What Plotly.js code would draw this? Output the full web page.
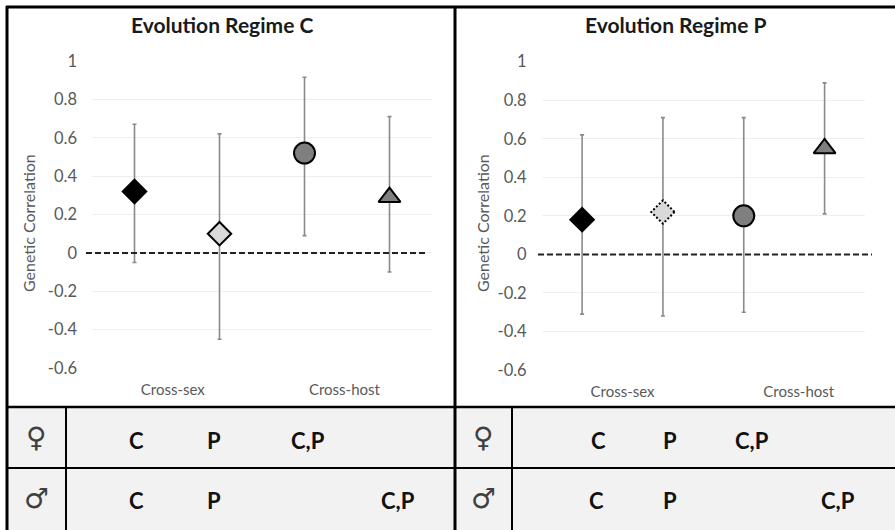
<!DOCTYPE html>
<html>
<head>
<meta charset="utf-8">
<script src="https://cdn.plot.ly/plotly-3.0.1.min.js"></script>
<style>
  html, body { margin: 0; padding: 0; background: #ffffff; }
  #chart { width: 895px; height: 530px; }
</style>
</head>
<body>
<div id="chart"></div>
<script>
// ---------------- data ----------------
const panelTitles = ["Evolution Regime C", "Evolution Regime P"];
const categoryLabels = ["Cross-sex", "Cross-host"];
const labelPosC = [0.45, 2.47];
const labelPosP = [0.5, 2.68];
const pointIndex = [0, 1, 2, 3];

// Regime C: estimate, upper and lower limits
const regimeC = [0.32, 0.10, 0.52, 0.29];
const regimeCUpper = [0.67, 0.62, 0.915, 0.71];
const regimeCLower = [-0.05, -0.45, 0.09, -0.10];

// Regime P
const regimeP = [0.18, 0.22, 0.20, 0.55];
const regimePUpper = [0.62, 0.71, 0.71, 0.89];
const regimePLower = [-0.31, -0.32, -0.30, 0.21];

const yTickVals = [-0.6, -0.4, -0.2, 0, 0.2, 0.4, 0.6, 0.8, 1];
const yTickText = ["-0.6", "-0.4", "-0.2", "0", "0.2", "0.4", "0.6", "0.8", "1"];
const yTitle = "Genetic Correlation";

// table below the panels
const femaleSymbol = "\u2640";
const maleSymbol = "\u2642";
const femaleRowC = ["C", "P", "C,P"];
const maleRowC = ["C", "P", "C,P"];
const femaleRowP = ["C", "P", "C,P"];
const maleRowP = ["C", "P", "C,P"];

// ---------------- styles ----------------
const W = 895, H = 530;
const px = v => v / W;
const py = v => 1 - v / H;

const symbols = ["diamond", "diamond", "circle", "triangle-up"];
const fillsC = ["#000000", "#d9d9d9", "#7f7f7f", "#7f7f7f"];
const fillsP = ["#000000", "#d9d9d9", "#7f7f7f", "#7f7f7f"];
const sizes = [17, 18, 21, 19];
const lineW = [3, 2, 2, 2];

function makeTrace(vals, up, lo, fills, xa, ya, uid) {
  return {
    type: "scatter", mode: "markers", uid: uid,
    x: pointIndex, y: vals, xaxis: xa, yaxis: ya,
    error_y: {
      type: "data", symmetric: false,
      array: up.map((u, i) => u - vals[i]),
      arrayminus: lo.map((l, i) => vals[i] - l),
      color: "#8a8a8a", thickness: 1.6, width: 2
    },
    marker: { symbol: symbols, color: fills, size: sizes, opacity: 1,
              line: { color: "#000000", width: lineW } },
    hoverinfo: "skip", showlegend: false
  };
}

const traces = [
  makeTrace(regimeC, regimeCUpper, regimeCLower, fillsC, "x", "y", "regC"),
  makeTrace(regimeP, regimePUpper, regimePLower, fillsP, "x2", "y2", "regP")
];

const tickFont = { family: "Lato, 'Open Sans', sans-serif", size: 16.5, color: "#595959" };
const catFont = { family: "Lato, 'Open Sans', sans-serif", size: 15, color: "#595959" };

function yAxis(domain, anchor) {
  return {
    domain: domain, anchor: anchor, range: [-0.6, 1],
    tickvals: yTickVals, ticktext: yTickText, tickfont: tickFont,
    showgrid: true, gridcolor: "#efefef", gridwidth: 1,
    zeroline: false, showline: false, ticks: "", ticklabelstandoff: 14,
    fixedrange: true
  };
}
function xAxis(domain, anchor, pos) {
  return {
    domain: domain, anchor: anchor, range: [-0.5, 3.5],
    tickvals: pos, ticktext: categoryLabels, tickfont: catFont,
    showgrid: false, zeroline: false, showline: false, ticks: "",
    ticklabelstandoff: 11, fixedrange: true
  };
}

const lineCol = "#000000";
function hLine(x0, x1, y, w) {
  return { type: "line", xref: "paper", yref: "paper", x0: px(x0), x1: px(x1),
           y0: py(y), y1: py(y), line: { color: lineCol, width: w }, layer: "above" };
}
function vLine(x, y0, y1, w) {
  return { type: "line", xref: "paper", yref: "paper", x0: px(x), x1: px(x),
           y0: py(y0), y1: py(y1), line: { color: lineCol, width: w }, layer: "above" };
}

const shapes = [
  { type: "rect", xref: "paper", yref: "paper", x0: px(7), x1: 1, y0: 0, y1: py(407),
    fillcolor: "#f2f2f2", line: { width: 0 }, layer: "below" },
  { type: "line", xref: "paper", yref: "y", x0: px(86), x1: px(427), y0: 0, y1: 0,
    line: { color: "#222222", width: 2, dash: "6px,3px" }, layer: "above" },
  { type: "line", xref: "paper", yref: "y2", x0: px(538), x1: px(872), y0: 0, y1: 0,
    line: { color: "#222222", width: 2, dash: "6px,3px" }, layer: "above" },
  hLine(6, 895, 7, 3),
  vLine(7, 6, 530, 3),
  vLine(455, 6, 530, 3),
  hLine(6, 895, 407, 2.5),
  hLine(6, 895, 468, 2),
  vLine(66, 407, 530, 2),
  vLine(512, 407, 530, 2)
];

const annotations = [];
const titleFont = { family: "Lato, 'Open Sans', sans-serif", size: 21, color: "#1a1a1a", weight: "bold" };
annotations.push({ text: "<b>" + panelTitles[0] + "</b>", xref: "paper", yref: "paper",
  x: px(222), y: py(25), showarrow: false, font: titleFont, xanchor: "center", yanchor: "middle" });
annotations.push({ text: "<b>" + panelTitles[1] + "</b>", xref: "paper", yref: "paper",
  x: px(675), y: py(25), showarrow: false, font: titleFont, xanchor: "center", yanchor: "middle" });

const yTitleFont = { family: "Lato, 'Open Sans', sans-serif", size: 16, color: "#595959" };
[[28, 223], [482, 223]].forEach(p => annotations.push({
  text: yTitle, xref: "paper", yref: "paper", x: px(p[0]), y: py(p[1]),
  textangle: -90, showarrow: false, font: yTitleFont, xanchor: "center", yanchor: "middle"
}));

const symFont = { family: "'DejaVu Sans', sans-serif", size: 28, color: "#404040" };
[[36, 437, femaleSymbol], [36, 498, maleSymbol], [483, 437, femaleSymbol], [483, 498, maleSymbol]]
  .forEach(p => annotations.push({ text: p[2], xref: "paper", yref: "paper",
    x: px(p[0]), y: py(p[1]), showarrow: false, font: symFont, xanchor: "center", yanchor: "middle" }));

const cellFont = { family: "Lato, 'Open Sans', sans-serif", size: 22, color: "#111111" };
function addRow(texts, xs, y) {
  texts.forEach((t, i) => annotations.push({ text: "<b>" + t + "</b>", xref: "paper", yref: "paper",
    x: px(xs[i]), y: py(y), showarrow: false, font: cellFont, xanchor: "center", yanchor: "middle" }));
}
addRow(femaleRowC, [136, 214, 308], 440);
addRow(maleRowC, [136, 214, 398], 500);
addRow(femaleRowP, [598, 670, 752], 440);
addRow(maleRowP, [596, 670, 838], 500);

const layout = {
  width: W, height: H,
  margin: { l: 0, r: 0, t: 0, b: 0, pad: 0 },
  paper_bgcolor: "#ffffff", plot_bgcolor: "rgba(0,0,0,0)",
  showlegend: false,
  xaxis: xAxis([px(92), px(432)], "y", labelPosC),
  yaxis: yAxis([py(368), py(61)], "x"),
  xaxis2: xAxis([px(541.7), px(865)], "y2", labelPosP),
  yaxis2: yAxis([py(370), py(61.7)], "x2"),
  shapes: shapes,
  annotations: annotations
};

Plotly.newPlot("chart", traces, layout, { staticPlot: true, displayModeBar: false }).then(() => {
  // dotted outline on the light diamond of regime P
  const pts = document.querySelectorAll(".traceregP .points path.point");
  if (pts.length > 1) {
    pts[1].style.strokeDasharray = "2,2";
  }
});
</script>
</body>
</html>
